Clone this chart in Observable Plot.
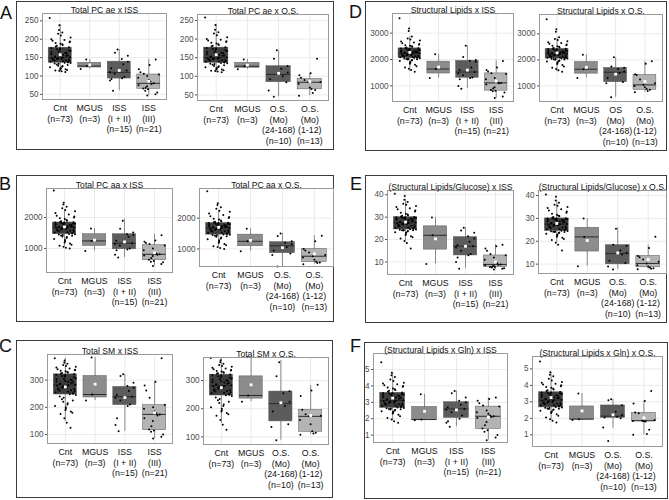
<!DOCTYPE html>
<html><head><meta charset="utf-8">
<script src="https://cdn.jsdelivr.net/npm/d3@7"></script>
<script src="https://cdn.jsdelivr.net/npm/@observablehq/plot@0.6"></script>
<style>
body{margin:0;background:#fff;font-family:"Liberation Sans",Arial,sans-serif;}
#fig{position:relative;width:669px;height:500px;overflow:hidden;background:#fff;}
.grp{position:absolute;border:1px solid #3a3a3a;box-sizing:border-box;}
.lt{position:absolute;font-size:18px;line-height:1;color:#111;font-family:"Liberation Sans",Arial,sans-serif;}
</style></head><body><div id="fig"></div>
<script>
// ---------- category labels ----------
const issCats = ["Cnt\n(n=73)", "MGUS\n(n=3)", "ISS\n(I + II)\n(n=15)", "ISS\n(III)\n(n=21)"];
const osCats = ["Cnt\n(n=73)", "MGUS\n(n=3)", "O.S.\n(Mo)\n(24-168)\n(n=10)", "O.S.\n(Mo)\n(1-12)\n(n=13)"];
const osCatsD = ["Cnt\n(n=73)", "MGUS\n(n=3)", "OS\n(Mo)\n(24-168)\n(n=10)", "O.S.\n(Mo)\n(1-12)\n(n=13)"];

// ---------- A: Total PC ae ----------
const pcaeCnt = [111,113,114,115,116,118,119,120,122,124,125,127,128,130,131,133,134,135,
 136,137,138,139,140,141,142,143,144,144,145,146,147,147,148,149,149,150,
 151,152,153,155,156,158,159,160,162,163,165,166,168,170,171,173,175,176,
 178,180,182,184,186,188,190,192,194,196,198,200,205,210,215,218,225,238,258];
const pcaeMgus = [119,127,145];
const pcaeIss12 = [172,163,155,146,139,132,121,115,110,106,98,94,92,88,60];
const pcaeIss3 = [145,130,118,110,106,104,100,95,90,85,80,78,75,72,68,66,64,60,55,50,47];
const pcaeOs24 = [170,147,128,120,110,100,92,84,62,45];
const pcaeOs1 = [147,108,103,96,90,85,84,80,70,66,63,55,48];
// box stats: [whisker low, q1, median, q3, whisker high, mean]
const pcaeBoxCnt = [111,136,150,177,240,158];
const pcaeBoxMgus = [119,123,127,136,145,130];
const pcaeBoxIss12 = [60,93,110,139,172,115];
const pcaeBoxIss3 = [47,65,80,104,145,86];
const pcaeBoxOs24 = [45,84,105,127,169,108];
const pcaeBoxOs1 = [48,65,84,93,108,86];
const pcaeTicks = [50,100,150,200,250];

// ---------- B: Total PC aa ----------
const pcaaCnt = [1000,1030,1060,1090,1120,1160,1200,1240,1280,1310,1340,1370,1390,1410,1425,1440,1450,1460,
 1470,1485,1500,1515,1530,1545,1560,1575,1590,1600,1610,1620,1630,1640,1650,1660,1668,1675,
 1680,1690,1700,1710,1720,1730,1740,1750,1760,1770,1780,1790,1800,1810,1815,1820,1830,1838,
 1845,1860,1880,1900,1920,1950,1980,2000,2030,2060,2100,2150,2200,2240,2300,2350,2420,2480,2870];
const pcaaMgus = [925,1247,1650];
const pcaaIss12 = [1900,1640,1520,1460,1440,1380,1250,1172,1150,1100,1000,970,950,800,710];
const pcaaIss3 = [1430,1260,1220,1180,1150,1100,1000,950,880,840,817,800,780,760,700,640,600,580,560,500,441];
const pcaaOs24 = [1500,1420,1250,1200,1150,1050,950,850,800,430];
const pcaaOs1 = [1430,1250,1000,950,880,800,763,720,650,580,560,540,505];
const pcaaBoxCnt = [1065,1462,1677,1840,2247,1700];
const pcaaBoxMgus = [925,1086,1247,1462,1650,1274];
const pcaaBoxIss12 = [710,978,1172,1462,1946,1215];
const pcaaBoxIss3 = [441,624,817,1108,1462,871];
const pcaaBoxOs24 = [430,860,1100,1220,1500,1040];
const pcaaBoxOs1 = [505,570,763,1000,1430,839];
const pcaaTicks = [1000,2000];

// ---------- C: Total SM ----------
const smCnt = [125,143,160,175,180,185,190,195,200,205,210,215,220,225,230,235,240,245,
 248,250,252,255,257,259,261,263,265,267,269,271,273,275,277,279,280,281,
 283,285,287,289,291,293,295,297,299,301,303,305,307,310,313,315,318,320,
 322,324,326,328,330,332,334,336,338,340,343,346,349,352,355,360,365,372,380];
const smMgus = [225,247,383];
const smIss12 = [321,315,290,278,272,260,245,239,235,225,210,205,160,135,112];
const smIss3 = [380,294,280,262,235,208,200,195,185,178,174,170,160,150,130,118,115,110,100,92,85];
const smOs24 = [365,315,262,255,225,210,190,145,135,88];
const smOs1 = [285,265,245,196,180,175,173,160,145,120,115,112,108];
const smBoxCnt = [147,247,282,321,380,275];
const smBoxMgus = [225,236,247,315,383,285];
const smBoxIss12 = [112,208,239,275,321,236];
const smBoxIss3 = [85,116,174,208,294,180];
const smBoxOs24 = [88,155,218,261,371,221];
const smBoxOs1 = [108,118,173,196,282,176];
const smTicks = [100,200,300];

// ---------- D: Structural Lipids ----------
const slCnt = [1540,1600,1650,1700,1750,1800,1840,1880,1910,1940,1960,1980,2000,2010,2020,2030,2040,2048,
 2055,2065,2075,2085,2095,2105,2115,2125,2135,2145,2155,2165,2175,2185,2195,2205,2215,2228,
 2235,2245,2255,2265,2275,2285,2295,2305,2315,2325,2335,2345,2355,2365,2380,2395,2405,2418,
 2430,2440,2460,2480,2500,2520,2540,2560,2590,2620,2650,2680,2720,2760,2800,2870,3080,3180,3560];
const slMgus = [1300,1641,2200];
const slIss12 = [2526,2100,1980,1950,1920,1700,1600,1526,1480,1400,1320,1300,1250,1000,897];
const slIss3 = [1949,1700,1600,1550,1480,1450,1300,1250,1180,1130,1115,1100,1050,950,900,850,820,800,750,600,540];
const slOs24 = [2100,1750,1700,1650,1550,1500,1300,1150,1100,560];
const slOs1 = [1950,1850,1450,1420,1250,1100,1040,1000,950,880,850,800,760];
const slBoxCnt = [1540,2051,2231,2423,2870,2270];
const slBoxMgus = [1300,1470,1641,1920,2200,1714];
const slBoxIss12 = [897,1308,1526,1949,2526,1600];
const slBoxIss3 = [540,820,1115,1474,1949,1180];
const slBoxOs24 = [564,1141,1526,1692,2077,1450];
const slBoxOs1 = [756,846,1038,1423,1936,1167];
const slTicks = [1000,2000,3000];

// ---------- E: Structural Lipids / Glucose ----------
const sgCnt = [16.0,18.5,19.4,20.5,21.0,21.5,22.0,22.5,23.0,23.3,23.6,23.8,24.0,24.1,24.2,24.3,24.4,24.5,
 24.6,24.8,25.0,25.2,25.4,25.6,25.8,26.0,26.2,26.4,26.6,26.8,26.9,27.0,27.1,27.2,27.3,27.4,
 27.6,27.8,28.0,28.2,28.4,28.6,28.8,29.0,29.2,29.3,29.4,29.5,29.6,29.7,29.8,29.85,29.9,29.95,
 30.1,30.3,30.6,30.9,31.2,31.5,32.0,32.5,33.0,33.5,34.0,34.5,35.0,35.5,36.0,36.8,37.8,39.5,40.5];
const sgMgus = [9.1,21.9,29.9];
const sgIss12 = [25.3,24.0,23.0,21.5,20.5,19.0,17.5,17.0,16.5,15.0,13.5,13.0,12.0,10.0,7.0];
const sgIss3 = [17.7,17.0,16.0,15.0,13.5,13.0,12.0,11.0,10.0,9.5,8.9,8.7,8.5,8.3,8.0,7.8,7.7,7.5,7.2,7.0,6.6];
const sgOs24 = [25.5,18.5,18.0,16.0,15.0,14.2,11.5,10.5,9.0,7.7];
const sgOs1 = [22.0,17.0,13.6,13.0,12.0,11.0,10.3,9.5,9.0,8.5,8.2,8.0,7.8];
const sgBoxCnt = [19.4,24.5,27.5,30.0,37.8,27.8];
const sgBoxMgus = [9.1,15.5,21.9,25.9,29.9,20.3];
const sgBoxIss12 = [7.0,12.9,17.0,21.1,25.3,17.0];
const sgBoxIss3 = [6.6,7.7,8.9,12.9,17.7,10.0];
const sgBoxOs24 = [7.7,9.9,14.6,18.3,25.9,14.9];
const sgBoxOs1 = [7.8,8.6,10.3,13.6,18.3,12.0];
const sgTicks = [10,20,30,40];

// ---------- F: Structural Lipids x Gln ----------
const sqCnt = [1.75,1.85,1.95,2.05,2.15,2.25,2.32,2.38,2.42,2.46,2.50,2.53,2.56,2.58,2.60,2.62,2.64,2.65,
 2.68,2.71,2.74,2.77,2.80,2.83,2.86,2.88,2.90,2.92,2.94,2.96,2.98,3.00,3.03,3.05,3.07,3.10,
 3.13,3.16,3.19,3.22,3.25,3.28,3.31,3.34,3.37,3.40,3.43,3.45,3.48,3.50,3.52,3.54,3.56,3.57,
 3.60,3.65,3.70,3.75,3.80,3.85,3.90,3.95,4.00,4.05,4.10,4.15,4.20,4.30,4.40,4.55,4.65,4.80,5.45];
const sqMgus = [1.9,1.95,3.5];
const sqIss12 = [3.69,3.55,3.30,3.10,3.00,2.85,2.70,2.60,2.55,2.40,2.20,2.00,1.85,1.75,1.51];
const sqIss3 = [3.30,3.20,3.10,2.95,2.80,2.74,2.50,2.40,2.30,2.20,2.15,2.10,2.05,1.80,1.60,1.40,1.30,1.20,1.00,0.85,0.69];
const sqOs24 = [3.15,3.10,2.80,2.40,2.20,2.10,2.05,2.00,1.45,0.62];
const sqOs1 = [3.65,3.05,2.90,2.35,2.30,1.90,1.85,1.83,1.82,1.80,1.30,1.05,1.00];
const sqBoxCnt = [1.88,2.66,3.11,3.58,4.8,3.26];
const sqBoxMgus = [1.9,1.925,1.95,2.72,3.5,2.45];
const sqBoxIss12 = [1.51,2.05,2.6,3.01,3.69,2.54];
const sqBoxIss3 = [0.69,1.37,2.15,2.74,3.26,2.09];
const sqBoxOs24 = [1.4,2.03,2.13,2.78,3.14,2.21];
const sqBoxOs1 = [1.0,1.83,1.85,2.33,3.04,2.03];
const sqTicks = [1,2,3,4,5];

// ---------- styling / layout ----------
const fills = ["#3d3d3d", "#8c8c8c", "#5c5c5c", "#b3b3b3"];

const panels = [
 {title:"Total PC ae x ISS", cats:issCats, vals:[pcaeCnt,pcaeMgus,pcaeIss12,pcaeIss3], boxes:[pcaeBoxCnt,pcaeBoxMgus,pcaeBoxIss12,pcaeBoxIss3], ticks:pcaeTicks, domain:[36,270], frame:[42,13,166,99]},
 {title:"Total PC ae x O.S.", cats:osCats, vals:[pcaeCnt,pcaeMgus,pcaeOs24,pcaeOs1], boxes:[pcaeBoxCnt,pcaeBoxMgus,pcaeBoxOs24,pcaeBoxOs1], ticks:pcaeTicks, domain:[35,266], frame:[197,14,328,100]},
 {title:"Total PC aa x ISS", cats:issCats, vals:[pcaaCnt,pcaaMgus,pcaaIss12,pcaaIss3], boxes:[pcaaBoxCnt,pcaaBoxMgus,pcaaBoxIss12,pcaaBoxIss3], ticks:pcaaTicks, domain:[230,2935], frame:[46,188,172,272]},
 {title:"Total PC aa x O.S.", cats:osCats, vals:[pcaaCnt,pcaaMgus,pcaaOs24,pcaaOs1], boxes:[pcaaBoxCnt,pcaaBoxMgus,pcaaBoxOs24,pcaaBoxOs1], ticks:pcaaTicks, domain:[430,2957], frame:[199,188,333,266]},
 {title:"Total SM x ISS", cats:issCats, vals:[smCnt,smMgus,smIss12,smIss3], boxes:[smBoxCnt,smBoxMgus,smBoxIss12,smBoxIss3], ticks:smTicks, domain:[67,394], frame:[47,354,172,443]},
 {title:"Total SM x O.S.", cats:osCats, vals:[smCnt,smMgus,smOs24,smOs1], boxes:[smBoxCnt,smBoxMgus,smBoxOs24,smBoxOs1], ticks:smTicks, domain:[73,382], frame:[203,357,328,444]},
 {title:"Structural Lipids x ISS", cats:issCats, vals:[slCnt,slMgus,slIss12,slIss3], boxes:[slBoxCnt,slBoxMgus,slBoxIss12,slBoxIss3], ticks:slTicks, domain:[410,3744], frame:[392,13,513,101]},
 {title:"Structural Lipids x O.S.", cats:osCatsD, vals:[slCnt,slMgus,slOs24,slOs1], boxes:[slBoxCnt,slBoxMgus,slBoxOs24,slBoxOs1], ticks:slTicks, domain:[400,3744], frame:[539,14,662,101]},
 {title:"(Structural Lipids/Glucose) x ISS", cats:issCats, vals:[sgCnt,sgMgus,sgIss12,sgIss3], boxes:[sgBoxCnt,sgBoxMgus,sgBoxIss12,sgBoxIss3], ticks:sgTicks, domain:[4.4,41.9], frame:[387,190,513,274]},
 {title:"(Structural Lipids/Glucose) x O.S.", cats:osCats, vals:[sgCnt,sgMgus,sgOs24,sgOs1], boxes:[sgBoxCnt,sgBoxMgus,sgBoxOs24,sgBoxOs1], ticks:sgTicks, domain:[5.9,42.2], frame:[538,190,666,273]},
 {title:"(Structural Lipids x Gln) x ISS", cats:issCats, vals:[sqCnt,sqMgus,sqIss12,sqIss3], boxes:[sqBoxCnt,sqBoxMgus,sqBoxIss12,sqBoxIss3], ticks:sqTicks, domain:[0.55,5.98], frame:[373,353,507,442]},
 {title:"(Structural Lipids x Gln) x O.S.", cats:osCats, vals:[sqCnt,sqMgus,sqOs24,sqOs1], boxes:[sqBoxCnt,sqBoxMgus,sqBoxOs24,sqBoxOs1], ticks:sqTicks, domain:[0.29,5.75], frame:[532,356,662,446]}
];

const groupsLayout = [
 {L:"A", box:[16,1,334,150], lx:0, ly:4},
 {L:"B", box:[16,175,334,322], lx:-1, ly:175},
 {L:"C", box:[16,340,333,498], lx:-1, ly:337},
 {L:"D", box:[365,1,667,151], lx:349, ly:3},
 {L:"E", box:[365,175,667,323], lx:350, ly:175},
 {L:"F", box:[364,342,668,499], lx:350, ly:337}
];

const fig = document.getElementById("fig");
for (const g of groupsLayout) {
  const d = document.createElement("div");
  d.className = "grp";
  d.style.left = g.box[0] + "px"; d.style.top = g.box[1] + "px";
  d.style.width = (g.box[2] - g.box[0]) + "px"; d.style.height = (g.box[3] - g.box[1]) + "px";
  fig.appendChild(d);
  const t = document.createElement("div");
  t.className = "lt"; t.textContent = g.L;
  t.style.left = g.lx + "px"; t.style.top = g.ly + "px";
  fig.appendChild(t);
}

// deterministic horizontal spread of the points (position only, like geom_jitter)
function jit(k, i) {
  const s = Math.sin((k + 1) * 12.9898 + (i + 1) * 78.233) * 43758.5453;
  return ((s - Math.floor(s)) - 0.5) * 0.72;
}

const ML = 30, MR = 4, MT = 16, MB = 54, HW = 0.39;
for (const p of panels) {
  const [fl, ft, fr, fb] = p.frame;
  const rows = p.boxes.map((b, i) => ({i, lo:b[0], q1:b[1], med:b[2], q3:b[3], hi:b[4], mean:b[5], fill:fills[i]}));
  const pts = p.vals.flatMap((arr, i) => arr.map((v, k) => ({x: i + jit(k, i), y: v})));
  const svg = Plot.plot({
    width: fr - fl + ML + MR,
    height: fb - ft + MT + MB,
    marginLeft: ML, marginRight: MR, marginTop: MT, marginBottom: MB,
    x: {domain: [-0.6, 3.6], axis: null},
    y: {domain: p.domain, ticks: p.ticks, tickFormat: d => String(d), tickSize: 2, tickPadding: 2, label: null},
    color: {type: "identity"},
    style: {fontFamily: "'Liberation Sans', Arial, sans-serif", fontSize: "8.2px", color: "#4d4d4d", background: "transparent", overflow: "visible"},
    marks: [
      Plot.frame({fill: "white"}),
      Plot.ruleY(p.ticks, {stroke: "#e4e4e4", strokeWidth: 0.8}),
      Plot.ruleX([0, 1, 2, 3], {stroke: "#e4e4e4", strokeWidth: 0.8}),
      Plot.ruleX(rows, {x: "i", y1: "lo", y2: "hi", stroke: "#8a8a8a", strokeWidth: 1}),
      Plot.rect(rows, {x1: d => d.i - HW, x2: d => d.i + HW, y1: "q1", y2: "q3", fill: "fill", stroke: "#5a5a5a", strokeWidth: 0.5}),
      Plot.ruleY(rows, {x1: d => d.i - HW, x2: d => d.i + HW, y: "med", stroke: "#2a2a2a", strokeWidth: 1}),
      Plot.dot(pts, {x: "x", y: "y", r: 1, fill: "#000"}),
      Plot.dot(rows, {x: "i", y: "mean", symbol: "square", r: 1.6, fill: "white"}),
      Plot.frame({stroke: "#9a9a9a"}),
      Plot.text(p.cats, {x: (d, i) => i, text: d => d, frameAnchor: "bottom", lineAnchor: "top", dy: 4, fontSize: 8.8, lineHeight: 1.2, fill: "#111"}),
      Plot.text([p.title], {text: d => d, frameAnchor: "top", lineAnchor: "bottom", dy: -1, fontSize: 8.6, fill: "#111"})
    ]
  });
  svg.style.position = "absolute";
  svg.style.left = (fl - ML) + "px";
  svg.style.top = (ft - MT) + "px";
  svg.style.maxWidth = "none";
  fig.appendChild(svg);
}
</script></body></html>
